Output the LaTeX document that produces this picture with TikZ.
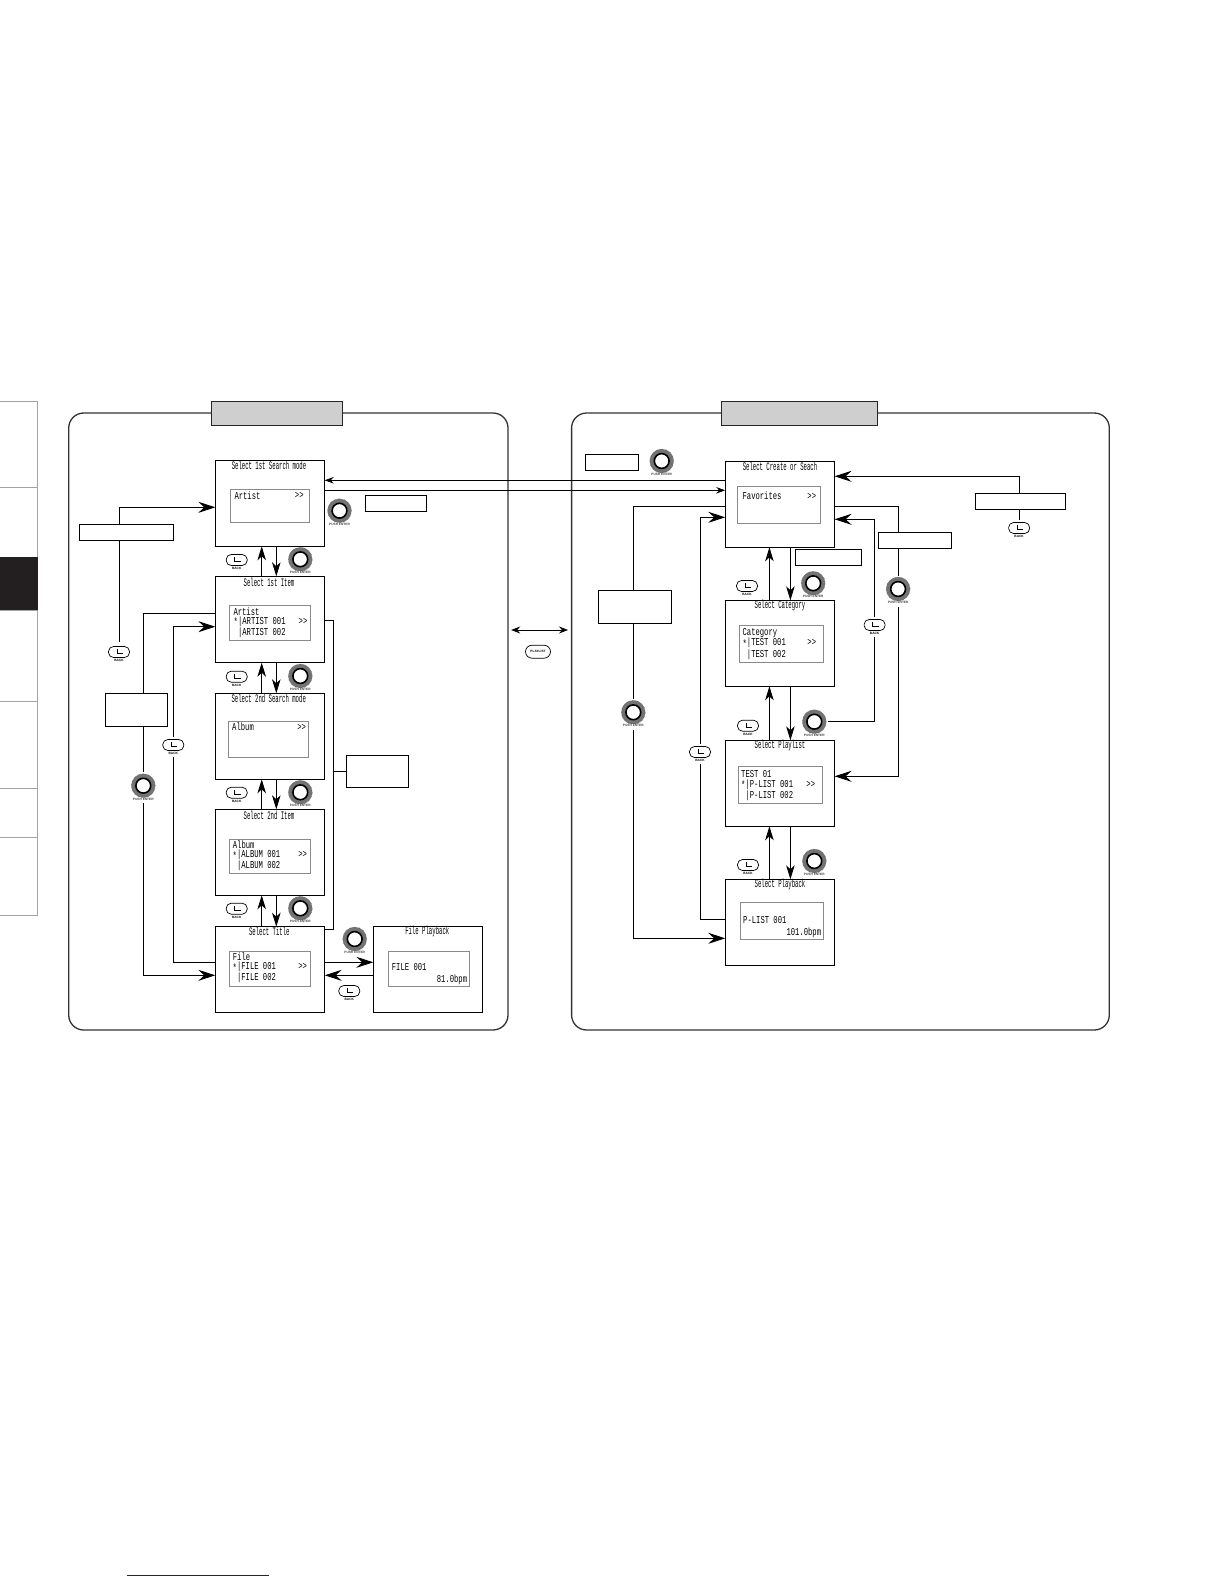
\documentclass[tikz,border=0pt]{standalone}
\usepackage{fontspec}
\usetikzlibrary{arrows.meta}
\newfontfamily\ttlfont[FakeStretch=0.49]{Liberation Mono}
\newfontfamily\scrfont[FakeStretch=0.68]{Liberation Mono}
\setsansfont{Liberation Sans}
\definecolor{sidegray}{HTML}{A3A3A3}
\definecolor{lblgray}{HTML}{CFCFCF}
\definecolor{scrgray}{HTML}{8A8A8A}
\definecolor{navyline}{HTML}{1A1A80}
\definecolor{sideblack}{HTML}{231F20}
\tikzset{
  panelbox/.style={draw=black!80,line width=1.3pt,rounded corners=15pt,inner sep=0pt,outer sep=0pt},
  titlebox/.style={draw=black!85,fill=lblgray,line width=.8pt,inner sep=0pt,outer sep=0pt},
  menubox/.style={draw=black,fill=white,line width=.9pt,inner sep=0pt,outer sep=0pt},
  screenbox/.style={draw=scrgray,line width=.7pt,inner sep=0pt,outer sep=0pt},
  notebox/.style={draw=black,fill=white,line width=.9pt,inner sep=0pt,outer sep=0pt},
  ttl/.style={font=\ttlfont\fontsize{11.5}{12}\selectfont,inner sep=0pt},
  scr/.style={font=\scrfont\fontsize{10.6}{12}\selectfont,inner sep=0pt,anchor=west},
  scrr/.style={font=\scrfont\fontsize{10.6}{12}\selectfont,inner sep=0pt,anchor=east},
  chev/.style={font=\scrfont\fontsize{10.6}{12}\selectfont,inner sep=0pt},
  wire/.style={draw=black,line width=.8pt},
  bigarr/.style={wire,-{Stealth[length=17pt,width=11pt,inset=6pt]}},
  midarr/.style={wire,-{Stealth[length=14pt,width=8.5pt,inset=4pt]}},
  smallarr/.style={wire,-{Stealth[length=9pt,width=6.5pt,inset=3pt]}},
  backic/.style={draw=black,fill=white,line width=.7pt,rounded corners=5pt,minimum width=21pt,minimum height=11pt,inner sep=0pt,outer sep=0pt},
  knobout/.style={circle,fill=black!55,draw=black!60,line width=.5pt,densely dotted,minimum size=24pt,inner sep=0pt,outer sep=1.5pt},
  tinylbl/.style={font=\sffamily\bfseries\fontsize{3.2}{3.5}\selectfont,inner sep=0pt},
}
% style as optional argument; x1, y1, x2, y2, name
\newcommand{\rectnode}[6][menubox]{\node[#1,minimum width={(#4-#2)*1pt},minimum height={(#5-#3)*1pt}] (#6) at ({(#2+#4)/2},{(#3+#5)/2}) {};}
\newcommand{\knobnode}[3]{%
  \node[knobout] (#1) at (#2,#3) {};
  \path[draw=black,line width=1.6pt,fill=white] (#2,#3) circle (7.4pt);
  \node[tinylbl,fill=white,inner ysep=.4pt] at (#2,#3+13.5) {\textcolor{black!75}{PUSH ENTER}};
}
\newcommand{\backnode}[3]{%
  \node[backic] (#1) at (#2,#3) {};
  \draw[line width=.9pt] (#2-2,#3-3) -- (#2-2,#3+1.5) -- (#2+4,#3+1.5);
  \node[tinylbl] at (#2,#3+8.5) {BACK};
}
\newcommand{\st}{\makebox[4.33pt]{\raisebox{-1.8pt}{*}}}
\begin{document}
\begin{tikzpicture}[x=1pt,y=-1pt]
\useasboundingbox (0,0) rectangle (1224,1584);
\fill[white] (0,0) rectangle (1224,1584);
% side tabs
\draw[sidegray,line width=.9pt] (0,401.5) -- (37.5,401.5) -- (37.5,915) -- (0,915);
\foreach \yy in {487.4,701,788,837.3} \draw[sidegray,line width=.9pt] (0,\yy) -- (37.5,\yy);
\fill[sideblack] (0,557.3) rectangle (37.5,609.5);
\draw[sidegray,line width=1.4pt] (0,610.3) -- (37.5,610.3);
\draw[navyline,line width=1pt] (126.7,1575.3) -- (268.7,1575.3);
% panels
\rectnode[panelbox]{68.7}{413}{508}{1030}{pl}
\rectnode[panelbox]{571.6}{413}{1109.3}{1030}{pr}
\rectnode[titlebox]{211.3}{401.3}{342.7}{425.3}{tl}
\rectnode[titlebox]{721.3}{401.3}{877.8}{425.3}{tr}
% left menu boxes
\rectnode{215.3}{460.3}{324.7}{546.3}{a1}
\rectnode{215.3}{576.3}{324.7}{662.7}{a2}
\rectnode{215.3}{693.3}{324.7}{779.3}{a3}
\rectnode{215.3}{809.3}{324.7}{895.3}{a4}
\rectnode{215.3}{926.7}{324.7}{1012.3}{a5}
\rectnode{373.3}{926.7}{482.7}{1012.3}{a6}
% right menu boxes
\rectnode{725.2}{461.3}{834.6}{547.3}{r1}
\rectnode{725.2}{600.3}{834.6}{686.3}{r2}
\rectnode{725.2}{740.3}{834.6}{826.3}{r3}
\rectnode{725.2}{879.3}{834.6}{965.3}{r4}
% screens
\rectnode[screenbox]{230.3}{489}{309.3}{522.7}{sa1}
\rectnode[screenbox]{229.3}{605.7}{310.7}{640.7}{sa2}
\rectnode[screenbox]{228.3}{721.7}{308.7}{757}{sa3}
\rectnode[screenbox]{229.3}{839.3}{310.7}{873.7}{sa4}
\rectnode[screenbox]{229.3}{951.3}{310.7}{986}{sa5}
\rectnode[screenbox]{388.3}{951.3}{469.7}{986.3}{sa6}
\rectnode[screenbox]{737.5}{486.3}{820.6}{523.7}{sr1}
\rectnode[screenbox]{739.2}{625.3}{823}{662.7}{sr2}
\rectnode[screenbox]{738.2}{766.3}{822.7}{803.7}{sr3}
\rectnode[screenbox]{740.3}{902.3}{823.8}{939.3}{sr4}
% titles
\node[ttl] (ta1) at (269,465.7) {Select 1st Search mode};
\node[ttl] (ta2) at (269,582.3) {Select 1st Item};
\node[ttl] (ta3) at (268.7,698.3) {Select 2nd Search mode};
\node[ttl] (ta4) at (269,815) {Select 2nd Item};
\node[ttl] (ta5) at (269.3,931.3) {Select Title};
\node[ttl] (ta6) at (427.3,931.3) {File Playback};
\node[ttl] (tr1) at (780,466.3) {Select Create or Seach};
\node[ttl] (tr2) at (780,605.3) {Select Category};
\node[ttl] (tr3) at (780,745.3) {Select Playlist};
\node[ttl] (tr4) at (780,884.7) {Select Playback};
% screen texts
\node[scr] (x1) at (234.3,495.3) {Artist};
\node[chev] (c1) at (299.3,495.3) {>>};
\node[scr] (x2) at (233.3,611.3) {Artist};
\node[scr] (x3) at (233.5,621.3) {\st|ARTIST 001};
\node[scr] (x4) at (233.5,633) {\ |ARTIST 002};
\node[chev] (c2) at (303,621.3) {>>};
\node[scr] (x5) at (232,727) {Album};
\node[chev] (c3) at (301.7,727) {>>};
\node[scr] (x6) at (232.7,844.7) {Album};
\node[scr] (x7) at (232.5,854.7) {\st|ALBUM 001};
\node[scr] (x8) at (232.5,865.7) {\ |ALBUM 002};
\node[chev] (c4) at (302.7,854.7) {>>};
\node[scr] (x9) at (232.7,956.7) {File};
\node[scr] (x10) at (232.5,966.7) {\st|FILE 001};
\node[scr] (x11) at (232.5,977.7) {\ |FILE 002};
\node[chev] (c5) at (302.7,966.7) {>>};
\node[scr] (x12) at (391.7,966.7) {FILE 001};
\node[scrr] (x13) at (467.3,979.3) {81.0bpm};
\node[scr] (y1) at (742.4,496) {Favorites};
\node[chev] (d1) at (811.8,496) {>>};
\node[scr] (y2) at (742.4,632.7) {Category};
\node[scr] (y3) at (742.4,642.7) {\st|TEST 001};
\node[scr] (y4) at (742.4,654.3) {\ |TEST 002};
\node[chev] (d2) at (811.8,642.7) {>>};
\node[scr] (y5) at (741,774) {TEST 01};
\node[scr] (y6) at (741,784.3) {\st|P-LIST 001};
\node[scr] (y7) at (741,796) {\ |P-LIST 002};
\node[chev] (d3) at (810.8,784.3) {>>};
\node[scr] (y8) at (743,920) {P-LIST 001};
\node[scrr] (y9) at (821.3,932.7) {101.0bpm};
% knobs
\knobnode{ka1}{339.5}{510.7}
\knobnode{ka2}{300.3}{559.3}
\knobnode{ka3}{300.3}{676}
\knobnode{ka4}{300.3}{792.3}
\knobnode{ka5}{300.3}{908.3}
\knobnode{ka6}{354.7}{939}
\knobnode{kl}{143.3}{785.7}
\knobnode{kr1}{661.7}{461}
\knobnode{kr2}{813.2}{583.3}
\knobnode{kr3}{814.3}{721.7}
\knobnode{kr4}{814.3}{861}
\knobnode{kr5}{633.3}{712.3}
\knobnode{kr6}{898.1}{589}
% back buttons
\backnode{ba1}{236.7}{560}
\backnode{ba2}{236.7}{676.7}
\backnode{ba3}{236.7}{792.7}
\backnode{ba4}{236.7}{908.7}
\backnode{ba5}{349.3}{991}
\backnode{bl1}{119}{652}
\backnode{bl2}{173.3}{745}
\backnode{br1}{747}{586}
\backnode{br2}{748}{725.7}
\backnode{br3}{748}{865}
\backnode{br4}{700}{752}
\backnode{br5}{874.6}{625}
\backnode{br6}{1019.1}{528}
% playlist button
\node[backic,rounded corners=6.5pt,minimum width=25pt,minimum height=13pt,font=\sffamily\bfseries\fontsize{3.2}{3.5}\selectfont] (pb) at (538,651.7) {PLAYLIST};
\coordinate (pl1) at (511.2,630);
\coordinate (pl2) at (568,630);
\draw[wire,{Stealth[length=9pt,width=7pt,inset=3pt]}-{Stealth[length=9pt,width=7pt,inset=3pt]}] (pl1) -- (pl2);
% vertical arrows, left
\foreach \up/\lo in {a1/a2,a2/a3,a3/a4,a4/a5}{
  \draw[midarr] (\lo.north -| 261.7,0) -- (\up.south -| 261.7,0);
  \draw[midarr] (\up.south -| 276.3,0) -- (\lo.north -| 276.3,0);
}
% vertical arrows, right
\foreach \up/\lo in {r1/r2,r2/r3,r3/r4}{
  \draw[midarr] (\lo.north -| 769.4,0) -- (\up.south -| 769.4,0);
  \draw[midarr] (\up.south -| 790.4,0) -- (\lo.north -| 790.4,0);
}
% between panels
\draw[smallarr] (r1.west |- 0,480.3) -- (a1.east |- 0,480.3);
\draw[smallarr] (a1.east |- 0,490.3) -- (r1.west |- 0,490.3);
% left loops
\draw[bigarr] ([yshift=5pt]bl1.north) -- (bl1.north |- 0,507.3) -- (a1.west |- 0,507.3);
\draw[wire] (a2.west |- 0,613.3) -- (kl.north |- 0,613.3) -- (kl.north);
\draw[bigarr] ([yshift=-4pt]kl.south) -- (kl.south |- 0,975.3) -- (a5.west |- 0,975.3);
\draw[bigarr] ([yshift=2.5pt]bl2.north) -- (bl2.north |- 0,626.7) -- (a2.west |- 0,626.7);
\draw[wire] (a5.west |- 0,962.3) -- (bl2.south |- 0,962.3) -- ([yshift=-6.5pt]bl2.south);
\draw[wire] (a2.east |- 0,620.3) -- (333.7,620.3) -- (333.7,929.3) -- (a5.east |- 0,929.3);
\draw[bigarr] (a5.east |- 0,962.3) -- (a6.west |- 0,962.3);
\draw[bigarr] (a6.west |- 0,975.3) -- (a5.east |- 0,975.3);
% right loops
\draw[bigarr] ([yshift=3pt]br6.north) -- (br6.north |- 0,476.3) -- (r1.east |- 0,476.3);
\draw[wire] (r1.west |- 0,506.3) -- (kr5.north |- 0,506.3) -- (kr5.north);
\draw[bigarr] ([yshift=-4pt]kr5.south) -- (kr5.south |- 0,938.3) -- (r4.west |- 0,938.3);
\draw[wire] (r4.west |- 0,919.3) -- (br4.south |- 0,919.3) -- ([yshift=-6.5pt]br4.south);
\draw[bigarr] ([yshift=2.5pt]br4.north) -- (br4.north |- 0,517.3) -- (r1.west |- 0,517.3);
\draw[wire] (r1.east |- 0,506.3) -- (kr6.north |- 0,506.3) -- (kr6.north);
\draw[bigarr] ([yshift=-4pt]kr6.south) -- (kr6.south |- 0,776.3) -- (r3.east |- 0,776.3);
\draw[wire] (kr3.east) -- (kr3.east -| br5.south) -- ([yshift=-6pt]br5.south);
\draw[bigarr] ([yshift=2.5pt]br5.north) -- (br5.north |- 0,519.3) -- (r1.east |- 0,519.3);
% notes (drawn over the wires)
\rectnode[notebox]{79.3}{524.3}{173.7}{540.7}{n1}
\rectnode[notebox]{105.3}{693.3}{167.7}{726.3}{n2}
\rectnode[notebox]{346.3}{755.3}{408.7}{787.7}{n3}
\rectnode[notebox]{365.3}{495.3}{426.7}{511.7}{n4}
\rectnode[notebox]{585.3}{454.3}{638.6}{470.7}{n5}
\rectnode[notebox]{795.4}{549.3}{861.6}{565.7}{n6}
\rectnode[notebox]{878.5}{532.3}{951.8}{548.7}{n7}
\rectnode[notebox]{975.3}{493.3}{1065.8}{509.7}{n8}
\rectnode[notebox]{598.2}{590.3}{671.5}{623.7}{n9}
\draw[wire] (n3.west) -- (n3.west -| 333.7,0);
\end{tikzpicture}
\end{document}
